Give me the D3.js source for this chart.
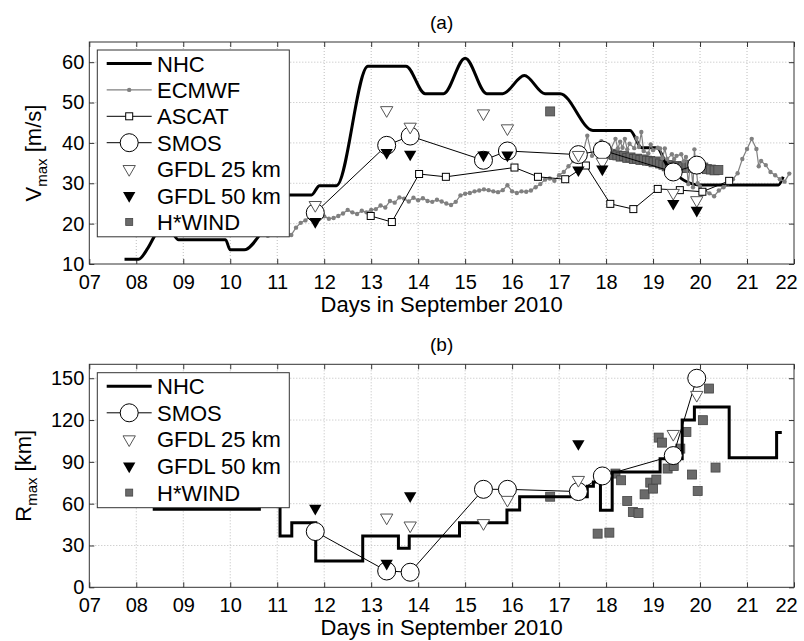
<!DOCTYPE html>
<html>
<head>
<meta charset="utf-8">
<script src="https://cdn.jsdelivr.net/npm/d3@7"></script>
<style>
  body { margin: 0; background: #fff; }
  svg { font-family: "Liberation Sans", Arial, sans-serif; }
</style>
</head>
<body>
<svg id="chart" width="804" height="641"></svg>
<script>
// ---- data (days in September 2010) ----
const dayTicks = d3.range(7, 23);
const vTicks = [10, 20, 30, 40, 50, 60];
const rTicks = [0, 30, 60, 90, 120, 150];

// panel (a): Vmax [m/s]
const nhcV = [
  [7.75, 11.2], [8.05, 11.2], [8.25, 14], [8.42, 17.5], [8.55, 19], [8.75, 18], [8.9, 16],
  [9.9, 16], [10.0, 13.5], [10.3, 13.5], [10.6, 16.8], [10.85, 22], [11.1, 27.1],
  [11.73, 27.1], [11.9, 29.4], [12.26, 29.4], [12.93, 59], [13.74, 59], [14.15, 52.2],
  [14.54, 52.2], [15.0, 61], [15.46, 52.2], [15.8, 52.2], [16.26, 56.7], [16.7, 52.2],
  [17.02, 52.2], [17.72, 43.1], [18.51, 43.1], [18.76, 38.8], [19.08, 38.8], [19.3, 34.5],
  [19.99, 29.6], [21.67, 29.6], [21.77, 31.6]
];
const ecmwfV = [
  [10.7, 17.5], [10.8, 17], [10.9, 18], [11.0, 17.5], [11.1, 18.5], [11.2, 17.8], [11.3, 17.2],
  [11.4, 19], [11.5, 20.2], [11.6, 20.8], [11.7, 21.8], [11.8, 22.4], [11.9, 22.8], [12.0, 21.8],
  [12.1, 21.2], [12.2, 21.4], [12.3, 21.9], [12.4, 22.5], [12.5, 23.4], [12.6, 22.8], [12.7, 22.4],
  [12.8, 23.2], [12.9, 22.8], [13.0, 23.4], [13.1, 23.6], [13.2, 24.5], [13.3, 24.0], [13.4, 25.6],
  [13.5, 25.2], [13.6, 26.5], [13.7, 26.2], [13.8, 25.5], [13.9, 26.4], [14.0, 25.8], [14.1, 26.3],
  [14.2, 25.6], [14.3, 25.4], [14.4, 25.9], [14.5, 25.5], [14.6, 25.0], [14.7, 24.6], [14.8, 25.4],
  [14.9, 27.0], [15.0, 27.4], [15.1, 27.6], [15.2, 28.0], [15.3, 28.2], [15.4, 28.5], [15.5, 28.3],
  [15.6, 28.0], [15.7, 27.8], [15.8, 28.3], [15.9, 29.5], [16.0, 28.0], [16.1, 27.6], [16.2, 28.0],
  [16.3, 27.9], [16.4, 28.2], [16.5, 29.0], [16.6, 29.8], [16.7, 30.9], [16.8, 31.2], [16.9, 30.6],
  [17.0, 32.0], [17.1, 32.8], [17.2, 34.2], [17.3, 35.5], [17.4, 36.4], [17.5, 37.0], [17.6, 41.8],
  [17.7, 36.8], [17.8, 39.6], [17.9, 40.4], [18.0, 38.6], [18.05, 39.5], [18.1, 38.4], [18.2, 41.0],
  [18.25, 38.6], [18.3, 40.3], [18.35, 38.8], [18.4, 41.0], [18.45, 38.4], [18.5, 39.8], [18.6, 38.7],
  [18.65, 41.2], [18.7, 39.0], [18.75, 42.7], [18.8, 38.0], [18.9, 37.4], [18.95, 39.6], [19.0, 38.2],
  [19.1, 38.8], [19.15, 38.6], [19.2, 36.2], [19.25, 38.6], [19.3, 36.0], [19.4, 37.2], [19.45, 36.0],
  [19.5, 36.8], [19.6, 37.2], [19.65, 35.4], [19.7, 36.5], [19.75, 29.8], [19.8, 35.5], [19.85, 29.0],
  [19.88, 38.4], [19.95, 30.0], [20.0, 29.2], [20.05, 27.4], [20.1, 28.3], [20.2, 27.5], [20.3, 26.8],
  [20.4, 28.2], [20.5, 29.0], [20.6, 30.0], [20.7, 31.0], [20.8, 32.5], [20.9, 36.0], [21.0, 38.5],
  [21.1, 41.0], [21.2, 38.5], [21.25, 34.2], [21.3, 35.5], [21.4, 34.5], [21.5, 32.8], [21.6, 32.0],
  [21.7, 31.0], [21.8, 30.4], [21.9, 32.4]
];
const ascatV = [
  [12.99, 21.9], [13.44, 20.4], [14.02, 32.3], [14.59, 31.6], [16.05, 33.9], [16.55, 31.6],
  [17.13, 31.0], [17.57, 34.4], [18.09, 24.9], [18.58, 23.6], [19.1, 28.6], [19.57, 28.3],
  [20.05, 27.9], [20.62, 30.6]
];
const smosDays = [11.81, 13.33, 13.83, 15.39, 15.9, 17.41, 17.92, 19.43, 19.93];
const smosV = [22.7, 39.4, 41.7, 35.7, 38.0, 37.1, 38.2, 32.8, 34.5];
const gfdl25V = [24.6, 48.1, 44.0, 47.3, 43.6, 37.0, 35.3, 27.6, 25.8];
const gfdl50V = [20.5, 37.6, 37.2, 37.0, 37.0, 33.3, 33.5, 25.0, 23.3];
const hwindV = [
  [16.81, 47.8], [18.03, 37.4], [18.1, 37.3], [18.17, 37.0], [18.24, 36.9], [18.31, 36.6],
  [18.38, 36.8], [18.45, 36.3], [18.52, 36.4], [18.59, 36.0], [18.66, 36.1], [18.73, 35.8],
  [18.8, 35.9], [18.87, 35.6], [18.94, 35.5], [19.01, 35.2], [19.08, 35.4], [19.15, 34.9],
  [19.22, 34.6], [19.29, 34.2], [19.36, 34.5], [19.43, 34.0], [19.5, 34.3], [19.57, 33.9],
  [19.64, 34.1], [19.71, 33.8], [19.78, 34.6], [19.85, 34.0], [19.92, 33.6], [19.99, 34.2],
  [20.07, 33.9], [20.15, 33.5], [20.23, 33.4], [20.31, 33.2], [20.39, 33.3]
];

// panel (b): Rmax [km]; NHC is a step series (value holds from each day on)
const nhcR = [
  [8.35, 56], [10.62, 62], [11.06, 36.8], [11.31, 46.4], [11.82, 18.9], [12.82, 36.8],
  [13.58, 28], [13.81, 36.8], [14.88, 46.4], [15.89, 55.5], [16.16, 65], [17.6, 72.5],
  [17.73, 75.6], [17.88, 55.3], [18.13, 82.8], [19.15, 92.3], [19.62, 120], [19.88, 129.4],
  [20.62, 93], [21.63, 111], [21.74, 111]
];
const smosR = [40, 11.7, 10.8, 70.3, 70.3, 68.7, 79.9, 94.5, 150];
const gfdl25R = [
  [13.33, 50], [13.83, 44.3], [15.39, 46], [15.9, 62.7], [17.41, 77], [19.43, 110], [19.93, 138]
];
const gfdl50R = [[11.81, 56.7], [13.33, 17.2], [13.83, 65.6], [17.41, 103]];
const hwindR = [
  [16.81, 65], [17.82, 38.5], [18.07, 39.2], [18.2, 81.6], [18.32, 76.8], [18.45, 61.9],
  [18.57, 54], [18.69, 53.3], [18.82, 66.7], [18.94, 75.1], [19.0, 70.8], [19.07, 77.3],
  [19.12, 107.4], [19.19, 103.8], [19.31, 85.2], [19.44, 87.1], [19.58, 99.5], [19.71, 111.5],
  [19.83, 80.9], [19.95, 69.1], [20.06, 119.9], [20.19, 142.6], [20.33, 85.9]
];

// ---- drawing ----
const svg = d3.select('#chart');
const left = 89.3, right = 794;
const x = d3.scaleLinear().domain([7, 22]).range([left, right]);

const triDown = d3.symbol().type(d3.symbolTriangle).size(66);

function panel(opts) {
  const y = d3.scaleLinear().domain(opts.domain).range([opts.bottom, opts.top]);
  const g = svg.append('g');

  // dotted grid
  g.append('g').selectAll('line.gx')
    .data(dayTicks.slice(1, -1))
    .enter().append('line')
    .attr('x1', d => x(d)).attr('x2', d => x(d))
    .attr('y1', opts.top).attr('y2', opts.bottom)
    .attr('stroke', '#bdbdbd').attr('stroke-dasharray', '1,2');
  g.append('g').selectAll('line.gy')
    .data(opts.ticks.filter(t => t > opts.domain[0]))
    .enter().append('line')
    .attr('x1', left).attr('x2', right)
    .attr('y1', d => y(d)).attr('y2', d => y(d))
    .attr('stroke', '#bdbdbd').attr('stroke-dasharray', '1,2');

  // axes with inward ticks on all four sides
  const fmt = d3.format('02d');
  const ax = g.append('g').attr('transform', `translate(0,${opts.bottom})`)
    .call(d3.axisBottom(x).tickValues(dayTicks).tickFormat(fmt).tickSize(-5).tickSizeOuter(0).tickPadding(11));
  g.append('g').attr('transform', `translate(0,${opts.top})`)
    .call(d3.axisTop(x).tickValues(dayTicks).tickFormat('').tickSize(-5).tickSizeOuter(0));
  const ay = g.append('g').attr('transform', `translate(${left},0)`)
    .call(d3.axisLeft(y).tickValues(opts.ticks).tickSize(-5).tickSizeOuter(0).tickPadding(5));
  g.append('g').attr('transform', `translate(${right},0)`)
    .call(d3.axisRight(y).tickValues(opts.ticks).tickFormat('').tickSize(-5).tickSizeOuter(0));
  g.selectAll('.domain').remove();
  g.selectAll('.tick line').attr('stroke', '#333');
  [ax, ay].forEach(a => a.selectAll('text')
    .attr('fill', '#000').style('font-size', '20px')
    .style('font-family', '"Liberation Sans", Arial, sans-serif'));
  // last day label sits at the window edge; keep it inside
  ax.selectAll('.tick').filter(d => d === 22).select('text').attr('dx', -8);

  g.append('rect')
    .attr('x', left).attr('y', opts.top)
    .attr('width', right - left).attr('height', opts.bottom - opts.top)
    .attr('fill', 'none').attr('stroke', '#333');

  // labels
  g.append('text')
    .attr('x', (left + right) / 2).attr('y', opts.bottom + 48)
    .attr('text-anchor', 'middle').style('font-size', '22px')
    .text('Days in September 2010');
  g.append('text')
    .attr('x', (left + right) / 2).attr('y', opts.top - 13)
    .attr('text-anchor', 'middle').style('font-size', '19px')
    .text(opts.title);
  const yl = g.append('text')
    .attr('transform', `translate(${opts.ylabelX},${(opts.top + opts.bottom) / 2}) rotate(-90)`)
    .attr('text-anchor', 'middle').style('font-size', '22px');
  yl.append('tspan').text(opts.ylabel[0]);
  yl.append('tspan').attr('dy', 6).style('font-size', '15px').text('max');
  yl.append('tspan').attr('dy', -6).text(' ' + opts.ylabel[1]);

  const plot = g.append('g');
  return { y, g, plot };
}

// ---------- panel (a) ----------
const pa = panel({
  top: 42, bottom: 264, domain: [10, 65], ticks: vTicks,
  title: '(a)', ylabel: ['V', '[m/s]'], ylabelX: 41
});
{
  const y = pa.y, p = pa.plot;
  p.selectAll('rect.hw').data(hwindV).enter().append('rect')
    .attr('x', d => x(d[0]) - 4.5).attr('y', d => y(d[1]) - 4.5)
    .attr('width', 9).attr('height', 9)
    .attr('fill', '#6a6a6a').attr('stroke', '#444').attr('stroke-width', 0.8);

  p.append('path').datum(nhcV)
    .attr('d', d3.line().x(d => x(d[0])).y(d => y(d[1])).curve(d3.curveMonotoneX))
    .attr('fill', 'none').attr('stroke', '#000').attr('stroke-width', 3);

  p.append('path').datum(ecmwfV)
    .attr('d', d3.line().x(d => x(d[0])).y(d => y(d[1])))
    .attr('fill', 'none').attr('stroke', '#808080').attr('stroke-width', 1.2);
  p.selectAll('circle.ec').data(ecmwfV).enter().append('circle')
    .attr('cx', d => x(d[0])).attr('cy', d => y(d[1])).attr('r', 2.2)
    .attr('fill', '#808080');

  p.append('path').datum(ascatV)
    .attr('d', d3.line().x(d => x(d[0])).y(d => y(d[1])))
    .attr('fill', 'none').attr('stroke', '#000').attr('stroke-width', 1);
  p.selectAll('rect.as').data(ascatV).enter().append('rect')
    .attr('x', d => x(d[0]) - 3.5).attr('y', d => y(d[1]) - 3.5)
    .attr('width', 7).attr('height', 7)
    .attr('fill', '#fff').attr('stroke', '#000');

  const sm = smosDays.map((d, i) => [d, smosV[i]]);
  p.append('path').datum(sm)
    .attr('d', d3.line().x(d => x(d[0])).y(d => y(d[1])))
    .attr('fill', 'none').attr('stroke', '#000').attr('stroke-width', 1);
  p.selectAll('circle.sm').data(sm).enter().append('circle')
    .attr('cx', d => x(d[0])).attr('cy', d => y(d[1])).attr('r', 9)
    .attr('fill', '#fff').attr('stroke', '#000');

  p.selectAll('path.g25').data(smosDays.map((d, i) => [d, gfdl25V[i]])).enter().append('path')
    .attr('d', triDown)
    .attr('transform', d => `translate(${x(d[0])},${y(d[1])}) rotate(180)`)
    .attr('fill', '#fff').attr('stroke', '#555');
  p.selectAll('path.g50').data(smosDays.map((d, i) => [d, gfdl50V[i]])).enter().append('path')
    .attr('d', triDown)
    .attr('transform', d => `translate(${x(d[0])},${y(d[1])}) rotate(180)`)
    .attr('fill', '#000');
}

// ---------- panel (b) ----------
const pb = panel({
  top: 364.3, bottom: 587.3, domain: [0, 160], ticks: rTicks,
  title: '(b)', ylabel: ['R', '[km]'], ylabelX: 31
});
{
  const y = pb.y, p = pb.plot;
  p.selectAll('rect.hw').data(hwindR).enter().append('rect')
    .attr('x', d => x(d[0]) - 4.5).attr('y', d => y(d[1]) - 4.5)
    .attr('width', 9).attr('height', 9)
    .attr('fill', '#6a6a6a').attr('stroke', '#444').attr('stroke-width', 0.8);

  p.append('path').datum(nhcR)
    .attr('d', d3.line().x(d => x(d[0])).y(d => y(d[1])).curve(d3.curveStepAfter))
    .attr('fill', 'none').attr('stroke', '#000').attr('stroke-width', 3);

  const sm = smosDays.map((d, i) => [d, smosR[i]]);
  p.append('path').datum(sm)
    .attr('d', d3.line().x(d => x(d[0])).y(d => y(d[1])))
    .attr('fill', 'none').attr('stroke', '#000').attr('stroke-width', 1);
  p.selectAll('circle.sm').data(sm).enter().append('circle')
    .attr('cx', d => x(d[0])).attr('cy', d => y(d[1])).attr('r', 9)
    .attr('fill', '#fff').attr('stroke', '#000');

  p.selectAll('path.g25').data(gfdl25R).enter().append('path')
    .attr('d', triDown)
    .attr('transform', d => `translate(${x(d[0])},${y(d[1])}) rotate(180)`)
    .attr('fill', '#fff').attr('stroke', '#555');
  p.selectAll('path.g50').data(gfdl50R).enter().append('path')
    .attr('d', triDown)
    .attr('transform', d => `translate(${x(d[0])},${y(d[1])}) rotate(180)`)
    .attr('fill', '#000');
}

// ---------- legends ----------
const drawers = {
  NHC: g => g.append('line').attr('x1', -22.5).attr('x2', 22.5)
    .attr('stroke', '#000').attr('stroke-width', 3),
  ECMWF: g => {
    g.append('line').attr('x1', -22.5).attr('x2', 22.5).attr('stroke', '#808080').attr('stroke-width', 1.2);
    g.append('circle').attr('r', 2.2).attr('fill', '#808080');
  },
  ASCAT: g => {
    g.append('line').attr('x1', -22.5).attr('x2', 22.5).attr('stroke', '#000');
    g.append('rect').attr('x', -3.5).attr('y', -3.5).attr('width', 7).attr('height', 7)
      .attr('fill', '#fff').attr('stroke', '#000');
  },
  SMOS: g => {
    g.append('line').attr('x1', -22.5).attr('x2', 22.5).attr('stroke', '#000');
    g.append('circle').attr('r', 9).attr('fill', '#fff').attr('stroke', '#000');
  },
  'GFDL 25 km': g => g.append('path').attr('d', triDown).attr('transform', 'rotate(180)')
    .attr('fill', '#fff').attr('stroke', '#555'),
  'GFDL 50 km': g => g.append('path').attr('d', triDown).attr('transform', 'rotate(180)')
    .attr('fill', '#000'),
  'H*WIND': g => g.append('rect').attr('x', -3.5).attr('y', -3.5).attr('width', 7).attr('height', 7)
    .attr('fill', '#6a6a6a').attr('stroke', '#444').attr('stroke-width', 0.8)
};

function legend(names, top, step) {
  const g = svg.append('g');
  g.append('rect')
    .attr('x', 97.3).attr('y', top)
    .attr('width', 192).attr('height', step * names.length + 2)
    .attr('fill', '#fff').attr('stroke', '#333');
  names.forEach((n, i) => {
    const cy = top + 13.5 + i * step;
    const sym = g.append('g').attr('transform', `translate(129.2,${cy})`);
    drawers[n](sym);
    g.append('text').attr('x', 157).attr('y', cy + 8)
      .style('font-size', '22px').text(n);
  });
}
legend(['NHC', 'ECMWF', 'ASCAT', 'SMOS', 'GFDL 25 km', 'GFDL 50 km', 'H*WIND'], 50, 26.4);
legend(['NHC', 'SMOS', 'GFDL 25 km', 'GFDL 50 km', 'H*WIND'], 372.7, 26.6);
</script>
</body>
</html>
